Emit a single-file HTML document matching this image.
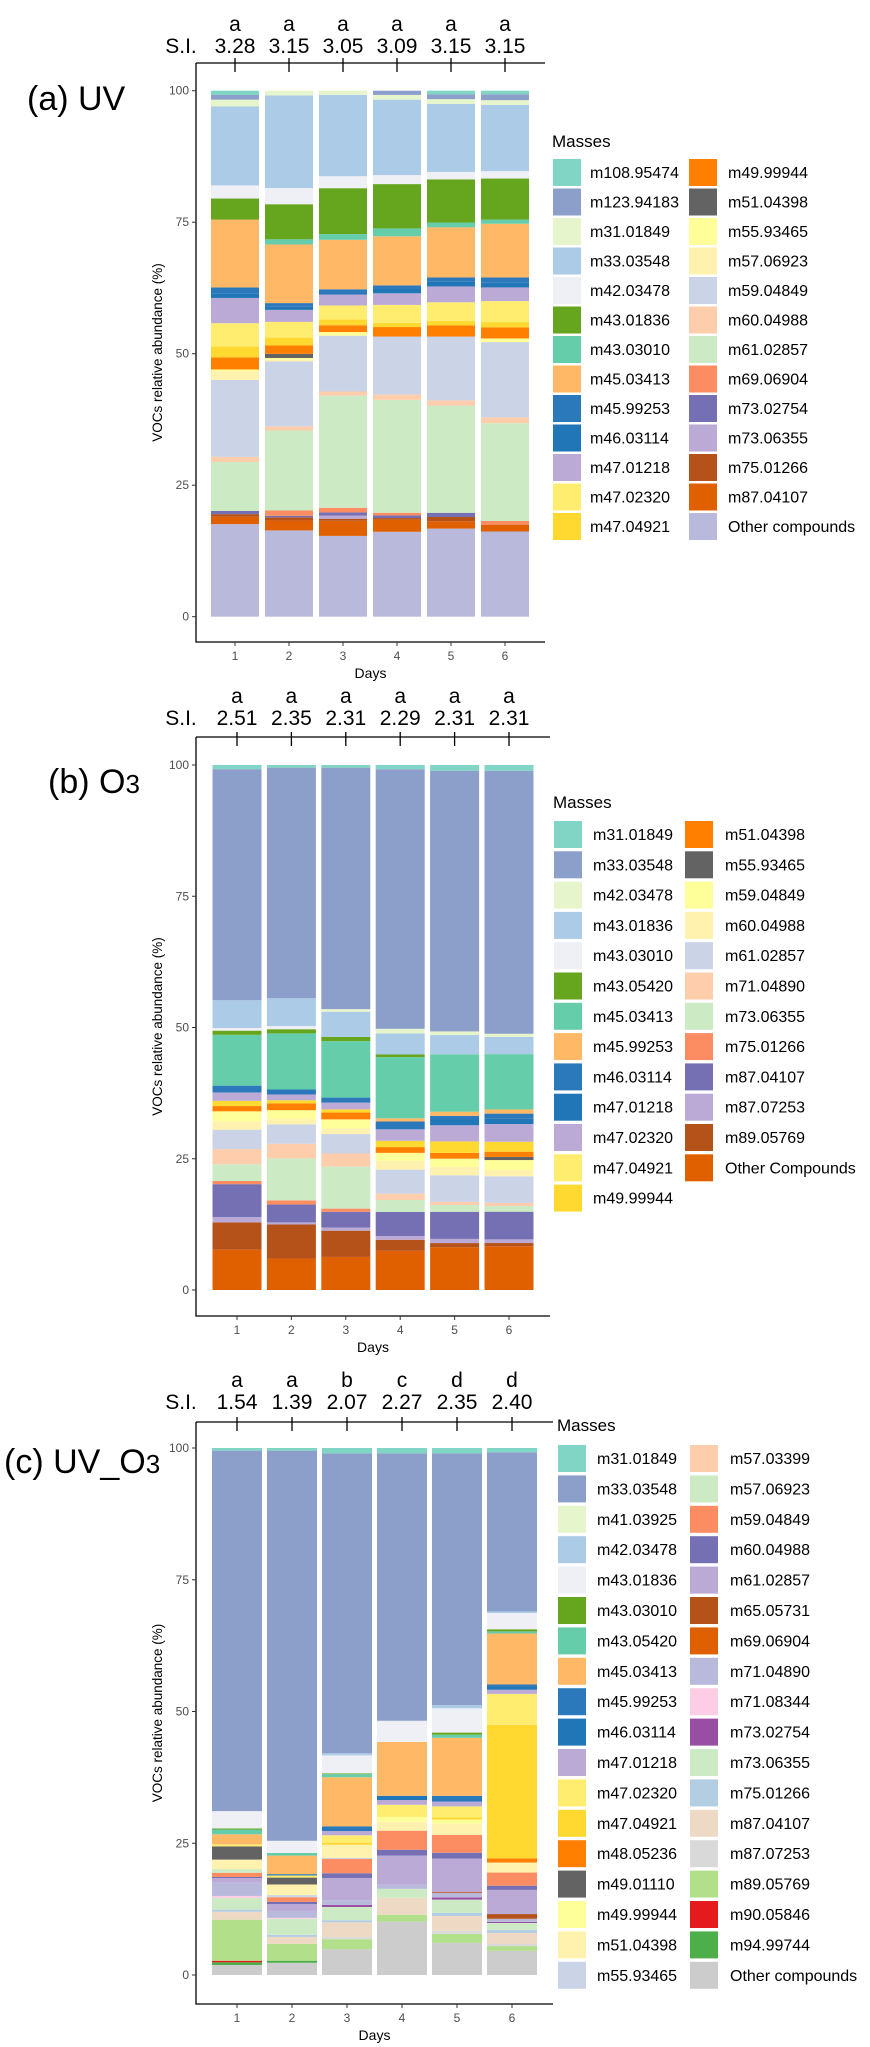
<!DOCTYPE html>
<html><head><meta charset="utf-8"><style>
body{margin:0;background:#fff}
svg{display:block;font-family:"Liberation Sans",sans-serif}
</style></head><body>
<svg id="chart" width="870" height="2047" viewBox="0 0 870 2047" xmlns="http://www.w3.org/2000/svg">
<text x="27" y="110" font-size="34">(a) UV</text>
<text x="48" y="793" font-size="34">(b) O<tspan font-size="26">3</tspan></text>
<text x="4" y="1473" font-size="34">(c) UV_O<tspan font-size="26">3</tspan></text>
</svg>
<script>
// ---------- Panel (a) UV ----------
const massesA=["m108.95474","m123.94183","m31.01849","m33.03548","m42.03478","m43.01836","m43.03010","m45.03413","m45.99253","m46.03114","m47.01218","m47.02320","m47.04921","m49.99944","m51.04398","m55.93465","m57.06923","m59.04849","m60.04988","m61.02857","m69.06904","m73.02754","m73.06355","m75.01266","m87.04107","Other compounds"];
const colorsA=["#80d5c4","#8c9fcb","#e6f5cc","#abcbe7","#efeff6","#66a61e","#66cdaa","#ffb866","#2b79bb","#2176b8","#bcaad6","#ffed6f","#ffd92f","#ff7f00","#636363","#ffff99","#fff2ae","#cbd3e6","#fdcdac","#ccebc5","#fc8d62","#7570b3","#bcaad6","#b5521a","#e06000","#b9b9dc"];
const dayA1=[0.8,0.9,1.3,15.0,2.5,4.0,0,12.9,1.1,0.9,4.8,4.4,2.1,2.3,0,0.3,1.7,14.6,1.0,9.3,0,0.6,0,0.5,1.4,17.6];
const dayA2=[0,0,0.9,17.7,3.1,6.7,1.0,11.2,0.7,0.6,2.3,3.0,1.5,1.6,0.8,0.25,0.4,12.4,0.8,15.3,1.0,0.3,0,0.6,1.9,16.5];
const dayA3=[0,0,0.8,15.6,2.3,8.8,1.1,9.5,0.8,0.2,2.1,2.7,1.1,1.3,0,0.7,0,10.7,0.8,21.5,0.9,0.6,0.6,0.4,2.9,15.5];
const dayA4=[0,0.8,0.9,14.3,1.7,8.4,1.5,9.3,0.6,0.9,2.2,3.4,0.8,1.8,0,0,0,11.0,1.0,21.4,0.5,0.5,0,0.3,2.3,16.1];
const dayA5=[0.7,0.9,0.9,12.9,1.4,8.2,0.9,9.5,0.8,0.9,3.0,3.5,0.9,2.1,0,0,0,12.1,1.0,20.3,0,0.8,0,0.8,1.4,16.7];
const dayA6=[0.7,1.1,0.9,12.6,1.4,7.8,0.8,10.2,1.0,0.9,2.6,4.0,1.0,2.1,0,0.7,0,14.3,1.1,18.6,0.7,0,0,0,1.3,16.2];
const siA=["3.28","3.15","3.05","3.09","3.15","3.15"];
const lettersA=["a","a","a","a","a","a"];

// ---------- Panel (b) O3 ----------
const massesB=["m31.01849","m33.03548","m42.03478","m43.01836","m43.03010","m43.05420","m45.03413","m45.99253","m46.03114","m47.01218","m47.02320","m47.04921","m49.99944","m51.04398","m55.93465","m59.04849","m60.04988","m61.02857","m71.04890","m73.06355","m75.01266","m87.04107","m87.07253","m89.05769","Other Compounds"];
const colorsB=["#80d5c4","#8c9fcb","#e6f5cc","#abcbe7","#efeff6","#66a61e","#66cdaa","#ffb866","#2b79bb","#2176b8","#bcaad6","#ffed6f","#ffd92f","#ff7f00","#636363","#ffff99","#fff2ae","#cbd3e6","#fdcdac","#ccebc5","#fc8d62","#7570b3","#bcaad6","#b5521a","#e06000"];
const dayB1=[0.8,44.1,0,5.3,0.5,0.8,9.7,0,1.3,0,1.6,0,1.0,1.0,0,1.9,1.6,3.7,2.9,3.2,0.6,6.3,1.0,5.2,7.7];
const dayB2=[0.5,44.0,0,5.3,0.6,0.8,10.7,0,0.95,0,1.1,0,0.6,1.3,0,1.7,1.0,3.7,2.8,8.0,0.8,3.4,0.4,6.5,6.0];
const dayB3=[0.5,46.0,0.5,4.8,0,0.8,10.75,0,0.95,0,1.3,0,0.6,1.3,0,1.7,1.1,3.7,2.5,8.0,0.6,3.0,0.6,5.0,6.3];
const dayB4=[0.8,49.6,0.9,4.0,0,0.5,11.7,0.6,1.5,0,2.2,0,1.2,1.1,0,1.5,1.7,4.6,1.2,2.3,0,4.6,0.7,2.1,7.5];
const dayB5=[1.1,50.0,0.7,3.7,0,0,11.0,0.8,0.7,1.1,3.1,0,2.2,1.1,0,1.6,1.6,5.1,0.6,1.3,0,5.2,0.8,0.8,8.2];
const dayB6=[1.1,50.4,0.6,3.3,0,0,10.6,0.8,1.0,1.0,3.4,0,1.9,1.0,0.6,1.9,1.2,5.1,0.6,1.1,0,5.3,0.7,0.6,8.4];
const siB=["2.51","2.35","2.31","2.29","2.31","2.31"];
const lettersB=["a","a","a","a","a","a"];

// ---------- Panel (c) UV_O3 ----------
const massesC=["m31.01849","m33.03548","m41.03925","m42.03478","m43.01836","m43.03010","m43.05420","m45.03413","m45.99253","m46.03114","m47.01218","m47.02320","m47.04921","m48.05236","m49.01110","m49.99944","m51.04398","m55.93465","m57.03399","m57.06923","m59.04849","m60.04988","m61.02857","m65.05731","m69.06904","m71.04890","m71.08344","m73.02754","m73.06355","m75.01266","m87.04107","m87.07253","m89.05769","m90.05846","m94.99744","Other compounds"];
const colorsC=["#80d5c4","#8c9fcb","#e6f5cc","#abcbe7","#efeff6","#66a61e","#66cdaa","#ffb866","#2b79bb","#2176b8","#bcaad6","#ffed6f","#ffd92f","#ff7f00","#636363","#ffff99","#fff2ae","#cbd3e6","#fdcdac","#ccebc5","#fc8d62","#7570b3","#bcaad6","#b5521a","#e06000","#b9b9dc","#fccde5","#984ea3","#ccebc5","#b3cde3","#eed9c4","#d9d9d9","#b2df8a","#e41a1c","#4daf4a","#cccccc"];
const dayC1=[0.5,68.4,0,0,3.3,0.2,0.9,1.9,0,0,0,0.4,0,0,2.5,0,1.8,0,0,0.7,0.8,0.2,0.9,0,0,2.5,0.4,0,2.2,0.4,1.5,0,7.8,0.3,0.5,1.9];
const dayC2=[0.5,73.7,0,0,2.3,0,0.5,3.5,0,0.25,0,0.4,0,0,1.3,0,2.0,0.4,0,0,0.9,0.4,1.3,0,0,1.3,0.2,0,3.0,0.4,1.3,0,3.2,0,0.4,2.3];
const dayC3=[1.0,56.9,0,0.4,3.4,0.15,0.6,9.3,0.9,0,0.8,1.4,0.4,0,0,0,2.5,0.2,0,0,2.7,0.9,4.2,0,0,0.9,0,0.4,2.5,0.4,2.8,0.4,1.9,0,0,4.9];
const dayC4=[1.0,50.6,0,0,4.0,0,0,10.2,0,0.8,0.9,2.3,0,0,0,0.9,1.7,0,0,0,3.6,1.1,5.5,0,0,0.8,0,0,1.7,0,3.2,0,1.3,0,0,10.1];
const dayC5=[1.0,47.8,0,0.6,4.6,0.4,0.6,11.0,1.1,0,0.9,2.1,0.4,0,0,0.8,2.1,0,0,0,3.4,1.1,6.3,0.2,0,0.9,0,0.4,2.5,0.6,2.8,0.6,1.7,0,0,6.1];
const dayC6=[0.8,30.3,0,0.3,3.1,0.4,0.4,9.7,0.4,0.6,0.8,5.9,25.4,0.8,0,0,1.9,0,0,0,2.5,0.8,4.6,0.9,0,0.6,0,0.2,1.3,0.6,2.1,0.4,0.9,0,0,4.6];
const siC=["1.54","1.39","2.07","2.27","2.35","2.40"];
const lettersC=["a","a","b","c","d","d"];

const yTicks=[0,25,50,75,100];
const dayLabels=["1","2","3","4","5","6"];

const NS="http://www.w3.org/2000/svg";
const svg=document.getElementById("chart");
function mk(tag,attrs,parent){const e=document.createElementNS(NS,tag);for(const k in attrs)e.setAttribute(k,attrs[k]);(parent||svg).appendChild(e);return e;}

function drawPanel(id,L,masses,colors,days,si,letters){
  const g=mk("g",{});
  
  
  const yScale=v=>L.y0-(L.y0-L.y100)*v/100;
  const xCenter=i=>L.c0+L.step*i;
  days.forEach((vals,d)=>{
    const total=vals.reduce((a,b)=>a+b,0);
    let cum=0;
    for(let s=vals.length-1;s>=0;s--){
      const v=vals[s]/total*100;
      if(v<=0)continue;
      const yb=yScale(cum), yt=yScale(cum+v);
      const r=mk("rect",{x:xCenter(d)-L.bw/2,y:yt,width:L.bw,height:yb-yt,fill:colors[s]},g);
      
      
      cum+=v;
    }
  });
  const ax=mk("path",{d:`M${L.left} ${L.top}V${L.bottom}H${L.right}M${L.left} ${L.top}H${L.right}`,stroke:"#000","stroke-width":1.3,fill:"none"},g);
  
  
  yTicks.forEach(t=>{
    const y=yScale(t);
    mk("line",{x1:L.left-4,x2:L.left,y1:y,y2:y,stroke:"#333"},g);
    const tx=mk("text",{x:L.left-7,y:y+4,"font-size":12,fill:"#4d4d4d","text-anchor":"end"},g);
    tx.textContent=t;
    
    
  });
  dayLabels.forEach((lab,i)=>{
    const x=xCenter(i);
    mk("line",{x1:x,x2:x,y1:L.bottom,y2:L.bottom+4,stroke:"#333"},g);
    const tx=mk("text",{x:x,y:L.bottom+18,"font-size":12,fill:"#4d4d4d","text-anchor":"middle"},g);
    tx.textContent=lab;
    
    
    mk("line",{x1:x,x2:x,y1:L.top-5,y2:L.top+9,stroke:"#000","stroke-width":1.3},g);
    const st=mk("text",{x:x,y:L.siY,"font-size":21,"text-anchor":"middle"},g);
    st.textContent=si[i];
    
    
    const lt=mk("text",{x:x,y:L.siY-22,"font-size":21,"text-anchor":"middle"},g);
    lt.textContent=letters[i];
    
    
  });
  const sl=mk("text",{x:181,y:L.siY,"font-size":21,"text-anchor":"middle"},g);
  sl.textContent="S.I.";
  
  
  const xt=mk("text",{x:(L.left+L.right)/2,y:L.bottom+36,"font-size":14,"text-anchor":"middle"},g);
  xt.textContent="Days";
  
  
  const cy=(L.top+L.bottom)/2;
  const yt=mk("text",{x:162,y:cy,"font-size":13.5,"text-anchor":"middle",transform:`rotate(-90 162 ${cy})`},g);
  yt.textContent="VOCs relative abundance (%)";
  
  
  const lg=mk("g",{},g);
  
  
  const ttl=mk("text",{x:L.lx1-1,y:L.ltitle+6,"font-size":17},lg);
  ttl.textContent="Masses";
  
  
  const n1=Math.ceil(masses.length/2);
  masses.forEach((m,i)=>{
    const col=i<n1?0:1, row=i<n1?i:i-n1;
    const kx=col?L.lx2:L.lx1, tx0=col?L.lt2:L.lt1;
    const ky=L.lkey+row*L.lstep;
    const k=mk("rect",{x:kx,y:ky,width:28,height:27,fill:colors[i]},lg);
    
    
    const t=mk("text",{x:tx0,y:ky+19,"font-size":16},lg);
    t.textContent=m;
    
    
  });
}

drawPanel("a",{top:63,bottom:642,left:196,right:545,y100:90.7,y0:616.7,c0:235,step:54,bw:48,siY:53,
  ltitle:141,lkey:159,lstep:29.5,lx1:553,lt1:590,lx2:689,lt2:728},massesA,colorsA,[dayA1,dayA2,dayA3,dayA4,dayA5,dayA6],siA,lettersA);
drawPanel("b",{top:737,bottom:1316,left:196,right:550,y100:765,y0:1290,c0:237,step:54.4,bw:49,siY:725,
  ltitle:802,lkey:821,lstep:30.3,lx1:554,lt1:593,lx2:685,lt2:725},massesB,colorsB,[dayB1,dayB2,dayB3,dayB4,dayB5,dayB6],siB,lettersB);
drawPanel("c",{top:1422,bottom:2004,left:196,right:553,y100:1448,y0:1975,c0:237,step:55,bw:50,siY:1409,
  ltitle:1425,lkey:1445,lstep:30.4,lx1:558,lt1:597,lx2:690,lt2:730},massesC,colorsC,[dayC1,dayC2,dayC3,dayC4,dayC5,dayC6],siC,lettersC);
</script>
</body></html>
